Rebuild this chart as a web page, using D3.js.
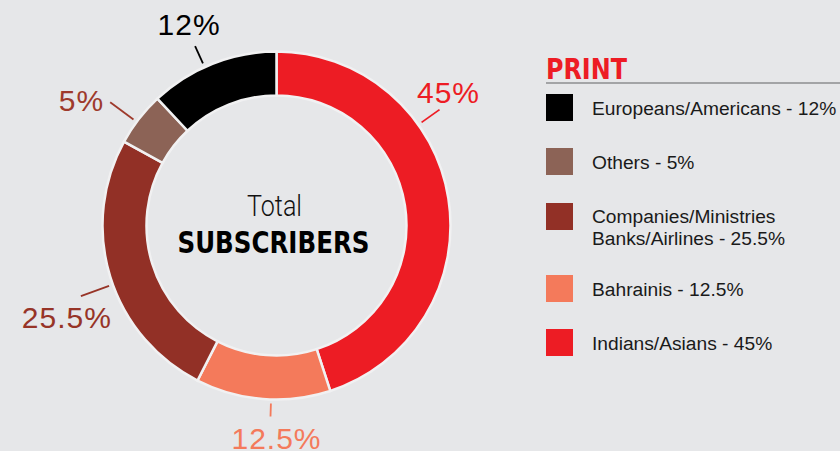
<!DOCTYPE html>
<html>
<head>
<meta charset="utf-8">
<script src="https://cdn.jsdelivr.net/npm/d3@7"></script>
<style>
  html, body { margin: 0; padding: 0; background: #e6e7e9; }
  svg { display: block; }
</style>
</head>
<body>
<svg id="chart" width="840" height="451"></svg>
<script>
// Subscriber groups, drawn clockwise from 12 o'clock
const groups = ["Indians/Asians", "Bahrainis", "Companies/Ministries Banks/Airlines", "Others", "Europeans/Americans"];
const shares = [45, 12.5, 25.5, 5, 12];
const ringLabels = ["45%", "12.5%", "25.5%", "5%", "12%"];
const colors = ["#ed1c24", "#f47a5b", "#923026", "#8c6356", "#000000"];
const labelColors = ["#ed1c24", "#f47a5b", "#973427", "#9e3a2c", "#000000"];

// Legend order and text lines
const legendOrder = [4, 3, 2, 1, 0];
const legendLines = [
  ["Europeans/Americans - 12%"],
  ["Others - 5%"],
  ["Companies/Ministries", "Banks/Airlines - 25.5%"],
  ["Bahrainis - 12.5%"],
  ["Indians/Asians - 45%"]
];

// Label placement: where along each slice the leader sits, its outer radius, text offset, anchor
const labelAt = [0.337, 0.44, 0.47, 0.43, 0.435];
const leaderOuter = [200, 191, 208, 207, 197];
const labelDx = [9, 6, -14, -6, -6];
const labelDy = [-7, 33, 32, 9, -11];
const labelAnchor = ["middle", "middle", "middle", "end", "middle"];

const svg = d3.select("#chart");
const cx = 276.5, cy = 225.5;
const rInner = 130, rOuter = 174;

const pie = d3.pie().sort(null).value(d => d)(shares);
const arc = d3.arc().innerRadius(rInner).outerRadius(rOuter);

const g = svg.append("g").attr("transform", `translate(${cx},${cy})`);

g.selectAll("path.slice")
  .data(pie)
  .join("path")
  .attr("class", "slice")
  .attr("d", arc)
  .attr("fill", (d, i) => colors[i])
  .attr("stroke", "#f1f1f2")
  .attr("stroke-width", 2.5)
  .attr("stroke-linejoin", "miter");

// Leaders and percentage labels
const angleOf = (d, i) => d.startAngle + (d.endAngle - d.startAngle) * labelAt[i];
const pt = (a, r) => [r * Math.sin(a), -r * Math.cos(a)];

g.selectAll("line.leader")
  .data(pie)
  .join("line")
  .attr("class", "leader")
  .attr("x1", (d, i) => pt(angleOf(d, i), 178)[0])
  .attr("y1", (d, i) => pt(angleOf(d, i), 178)[1])
  .attr("x2", (d, i) => pt(angleOf(d, i), leaderOuter[i])[0])
  .attr("y2", (d, i) => pt(angleOf(d, i), leaderOuter[i])[1])
  .attr("stroke", (d, i) => labelColors[i])
  .attr("stroke-width", 1.8);

g.selectAll("text.pct")
  .data(pie)
  .join("text")
  .attr("class", "pct")
  .attr("x", (d, i) => pt(angleOf(d, i), leaderOuter[i])[0] + labelDx[i])
  .attr("y", (d, i) => pt(angleOf(d, i), leaderOuter[i])[1] + labelDy[i])
  .attr("text-anchor", (d, i) => labelAnchor[i])
  .attr("fill", (d, i) => labelColors[i])
  .attr("font-family", "'Liberation Sans', Arial, sans-serif")
  .attr("font-size", 30)
  .attr("letter-spacing", 1)
  .text((d, i) => ringLabels[i]);

// Centre caption
g.append("text")
  .attr("x", -2).attr("y", -10)
  .attr("text-anchor", "middle")
  .attr("font-family", "Roboto, 'Liberation Sans Narrow', sans-serif")
  .attr("font-weight", 300)
  .attr("font-size", 29)
  .attr("fill", "#111")
  .attr("textLength", 55)
  .attr("lengthAdjust", "spacingAndGlyphs")
  .text("Total");

g.append("text")
  .attr("x", -3).attr("y", 27)
  .attr("text-anchor", "middle")
  .attr("font-family", "'Liberation Sans Narrow', 'DejaVu Sans Condensed', 'Roboto', sans-serif")
  .attr("font-weight", 700)
  .attr("font-size", 30)
  .attr("fill", "#000")
  .attr("textLength", 192)
  .attr("lengthAdjust", "spacingAndGlyphs")
  .text("SUBSCRIBERS");

// Legend
const lx = 546;
svg.append("text")
  .attr("x", lx).attr("y", 79)
  .attr("font-family", "'Liberation Sans Narrow', 'DejaVu Sans Condensed', 'Roboto', sans-serif")
  .attr("font-weight", 700)
  .attr("font-size", 29)
  .attr("fill", "#ed1c24")
  .attr("textLength", 81)
  .attr("lengthAdjust", "spacingAndGlyphs")
  .text("PRINT");

svg.append("line")
  .attr("x1", lx).attr("x2", 840)
  .attr("y1", 83).attr("y2", 83)
  .attr("stroke", "#a3a4a6")
  .attr("stroke-width", 2);

const swatchY = [94, 148, 203, 275, 329];
const legend = svg.append("g");
legendOrder.forEach((k, j) => {
  legend.append("rect")
    .attr("x", lx).attr("y", swatchY[j])
    .attr("width", 27).attr("height", 27)
    .attr("fill", colors[k]);
  const lines = legendLines[j];
  const t = legend.append("text")
    .attr("font-family", "'Liberation Sans', Arial, sans-serif")
    .attr("font-size", 19.2)
    .attr("fill", "#1a1a1a");
  lines.forEach((s, m) => {
    t.append("tspan")
      .attr("x", 592)
      .attr("y", lines.length === 1 ? swatchY[j] + 21 : swatchY[j] + 20 + m * 22)
      .text(s);
  });
});
</script>
</body>
</html>
